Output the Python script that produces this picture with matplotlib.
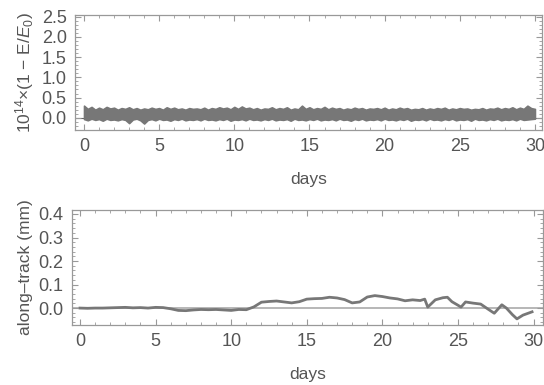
import numpy as np
import matplotlib.pyplot as plt
from matplotlib.ticker import MultipleLocator

plt.rcParams['font.family'] = ['Liberation Sans', 'DejaVu Sans']
plt.rcParams['mathtext.fontset'] = 'custom'
plt.rcParams['mathtext.rm'] = 'Liberation Sans'
plt.rcParams['mathtext.it'] = 'Liberation Sans:italic'

# energy error band (upper / lower envelope)
days_e = np.arange(0, 30.01, 0.25)
upper = [0.30, 0.22, 0.27, 0.20, 0.25, 0.21, 0.27, 0.23, 0.25, 0.20,
         0.24, 0.22, 0.26, 0.21, 0.24, 0.20, 0.23, 0.21, 0.25, 0.22,
         0.24, 0.20, 0.26, 0.22, 0.25, 0.21, 0.23, 0.20, 0.24, 0.22,
         0.23, 0.21, 0.25, 0.20, 0.24, 0.22, 0.26, 0.23, 0.25, 0.21,
         0.27, 0.22, 0.28, 0.23, 0.25, 0.21, 0.24, 0.20, 0.23, 0.22,
         0.26, 0.21, 0.24, 0.22, 0.26, 0.20, 0.23, 0.21, 0.30, 0.22,
         0.26, 0.21, 0.24, 0.22, 0.27, 0.21, 0.25, 0.22, 0.24, 0.20,
         0.23, 0.21, 0.25, 0.22, 0.24, 0.20, 0.23, 0.22, 0.24, 0.21,
         0.25, 0.20, 0.23, 0.21, 0.25, 0.22, 0.24, 0.20, 0.22, 0.21,
         0.24, 0.20, 0.23, 0.21, 0.24, 0.22, 0.25, 0.20, 0.23, 0.21,
         0.24, 0.22, 0.23, 0.20, 0.22, 0.21, 0.24, 0.20, 0.23, 0.22,
         0.25, 0.21, 0.24, 0.22, 0.26, 0.21, 0.25, 0.22, 0.30, 0.24, 0.22]
lower = [-0.03, -0.06, -0.02, -0.05, -0.03, -0.07, -0.02, -0.05, -0.04, -0.06,
         -0.03, -0.05, -0.13, -0.04, -0.02, -0.06, -0.14, -0.05, -0.03, -0.06,
         -0.02, -0.05, -0.04, -0.07, -0.03, -0.05, -0.02, -0.06, -0.04, -0.05,
         -0.03, -0.06, -0.02, -0.05, -0.04, -0.06, -0.03, -0.05, -0.02, -0.07,
         -0.04, -0.05, -0.03, -0.06, -0.02, -0.05, -0.04, -0.06, -0.03, -0.05,
         -0.02, -0.06, -0.04, -0.05, -0.03, -0.07, -0.02, -0.05, -0.04, -0.06,
         -0.03, -0.05, -0.02, -0.06, -0.04, -0.05, -0.03, -0.06, -0.02, -0.05,
         -0.04, -0.07, -0.03, -0.05, -0.02, -0.06, -0.04, -0.05, -0.03, -0.06,
         -0.02, -0.05, -0.04, -0.06, -0.03, -0.05, -0.02, -0.07, -0.04, -0.05,
         -0.03, -0.06, -0.02, -0.05, -0.04, -0.06, -0.03, -0.05, -0.02, -0.06,
         -0.04, -0.05, -0.03, -0.07, -0.02, -0.05, -0.04, -0.06, -0.03, -0.05,
         -0.02, -0.06, -0.04, -0.05, -0.03, -0.06, -0.02, -0.05, -0.04, -0.03, -0.02]

# along-track error
days_a = [0, 0.5, 1, 1.5, 2, 2.5, 3, 3.5, 4, 4.5, 5, 5.5, 6, 6.5, 7, 7.5, 8, 8.5,
          9, 9.5, 10, 10.5, 11, 11.5, 12, 12.5, 13, 13.5, 14, 14.5, 15, 15.5, 16,
          16.5, 17, 17.5, 18, 18.5, 19, 19.5, 20, 20.5, 21, 21.5, 22, 22.5, 22.8,
          23, 23.5, 24, 24.3, 24.6, 25, 25.2, 25.5, 26, 26.5, 27, 27.4, 27.9,
          28.2, 28.6, 28.9, 29.3, 29.9]
along = [0.0, -0.001, 0.0, 0.0, 0.001, 0.002, 0.003, 0.001, 0.002, 0.0, 0.003,
         0.002, -0.003, -0.010, -0.011, -0.008, -0.006, -0.007, -0.006, -0.008,
         -0.010, -0.006, -0.007, 0.005, 0.025, 0.028, 0.030, 0.026, 0.022, 0.027,
         0.038, 0.040, 0.041, 0.046, 0.043, 0.036, 0.022, 0.026, 0.047, 0.053,
         0.049, 0.043, 0.039, 0.031, 0.035, 0.032, 0.038, 0.004, 0.035, 0.044,
         0.046, 0.027, 0.012, 0.004, 0.026, 0.021, 0.017, -0.005, -0.022, 0.014,
         0.000, -0.028, -0.046, -0.030, -0.016]

frame_c = '#999999'
text_c = '#555555'
data_c = '#777777'

fig = plt.figure(figsize=(5.44, 3.85), dpi=100)
ax1 = fig.add_axes([75 / 544, 1 - 130 / 385, 467 / 544, 115.5 / 385])
ax2 = fig.add_axes([72 / 544, 1 - 325 / 385, 470.5 / 544, 115 / 385])

ax1.fill_between(days_e, lower, upper, color=data_c, lw=1.2, edgecolor=data_c)
ax1.axhline(0, color='#666666', lw=0.8, zorder=0)
ax1.set_xlim(-0.6, 30.47)
ax1.set_ylim(-0.3, 2.55)
ax1.yaxis.set_major_locator(MultipleLocator(0.5))
ax1.yaxis.set_minor_locator(MultipleLocator(0.1))
ax1.yaxis.set_major_formatter(lambda v, p: '%.1f' % v)
ax1.set_ylabel(r'$\mathregular{10^{14}}$×(1 − E/$E_\mathregular{0}$)', fontsize=12.5,
               color=text_c, labelpad=4)

ax2.axhline(0, color='#aaaaaa', lw=1.2, zorder=0)
ax2.plot(days_a, along, color=data_c, lw=2.0)
ax2.set_xlim(-0.53, 30.59)
ax2.set_ylim(-0.072, 0.417)
ax2.yaxis.set_major_locator(MultipleLocator(0.1))
ax2.yaxis.set_minor_locator(MultipleLocator(0.02))
ax2.yaxis.set_major_formatter(lambda v, p: '%.1f' % v)
ax2.set_ylabel('along–track (mm)', fontsize=12.5, color=text_c, labelpad=4)

for ax in (ax1, ax2):
    ax.xaxis.set_major_locator(MultipleLocator(5))
    ax.xaxis.set_minor_locator(MultipleLocator(1))
    ax.set_xlabel('days', fontsize=12.5, color=text_c, labelpad=12)
    for s in ax.spines.values():
        s.set_color(frame_c)
        s.set_linewidth(0.9)
    ax.tick_params(which='both', direction='in', top=True, right=True, color=frame_c,
                   labelsize=13, labelcolor=text_c)
    ax.tick_params(which='major', length=4, width=0.8, pad=6)
    ax.tick_params(which='minor', length=2, width=0.6)

fig.savefig('out.png', dpi=100)
